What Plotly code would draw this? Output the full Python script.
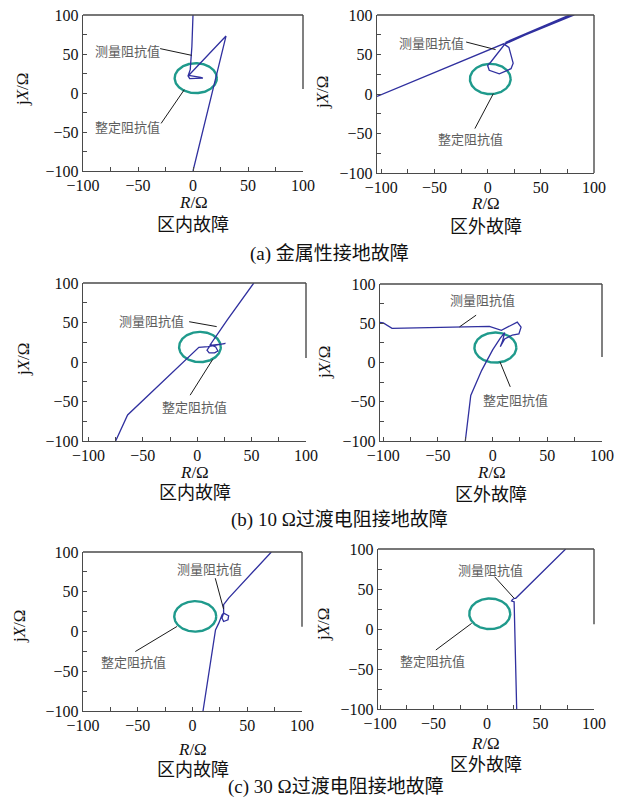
import numpy as np
import plotly.graph_objects as go

W, H = 619, 799

# ---------------- measured-impedance trajectories (R / X in ohm) ----------------
# (a) metallic earth fault
r_a_in = [0, -1, -2.5, -4.5, -3, 9, 7, -4, 30, 0]
x_a_in = [100, 60, 30, 22, 18.5, 19, 20, 22.5, 73, -100]

r_a_out = [-104, -95, -85, 15, 20, 24, 22, 11, 1.5, 0, 3, 16, 77, 17, 79.5, 16, 81.5]
x_a_out = [-3, 2, 7, 63.5, 59, 39, 32, 25.5, 30, 36, 40.5, 63, 100, 65.5, 100, 64, 100]

# (b) 10 ohm fault resistance
r_b_in = [-75, -64, 1.5, 10, 26, 24, 12, 9, 11, 16, 19, 17, 12, 27.5, 52]
x_b_in = [-100, -67, 18.6, 19.5, 23.5, 23, 21, 15, 11.5, 11.5, 14, 19, 22, 53, 100]

r_b_out = [-103, -100, -92, -3, 8, 18, 22.5, 26, 24, 18, 11, 7, 9, 11, 7, 0, -10, -20, -25]
x_b_out = [51, 50.5, 43.5, 46, 41, 49, 51.5, 45, 36.5, 35, 30, 20, 27, 38, 31, 16, -10, -42, -100]

# (c) 30 ohm fault resistance
r_c_in = [9.6, 21, 24, 27, 28.4, 33, 32.4, 28.4, 26.9, 28.4, 28.4, 33, 72]
x_c_in = [-100, 2, 10.5, 21, 23.2, 19.8, 14.8, 12.6, 16.9, 23, 33.7, 42, 100]

r_c_out = [27.7, 25.9, 25.3, 22.9, 23.8, 25.9, 26.8, 73.5]
x_c_out = [-100, 2.9, 34, 35, 37, 38.4, 38.4, 100]

# setting impedance of the mho characteristic (circle through the origin)
z_set_r, z_set_x = 5.0, 38.0

# label / leader-line anchors: text (R, X), leader start (R, X), leader end (R, X)
meas_labels = [
    ((-60, 54.7), (-29.9, 56.9), (-1.2, 48.3)),
    ((-52.6, 65.8), (-20.2, 65.8), (7.5, 56.2)),
    ((-41.9, 52.0), (-7.4, 51.0), (17.9, 44.8)),
    ((-9.1, 80.3), (-30.3, 45.4), (-15.1, 60.3)),
    ((15.5, 78.7), (20.8, 67.0), (28.4, 28.2)),
    ((3.2, 74.6), (7.0, 65.4), (25.3, 38.4)),
]
set_labels = [
    ((-60, -43), (-29, -39), (-7.9, 4.3)),
    ((-16.0, -55.7), (-12, -43.8), (5.4, 0.5)),
    ((-2.7, -56.7), (-6.5, -42), (14.3, 3.4)),
    ((20.5, -47.1), (16.1, -31), (6.7, 0.8)),
    ((-53.7, -37.8), (-52.2, -25.2), (-14.2, 6.3)),
    ((-51, -39.6), (-47.9, -26.25), (-14.4, 7.1)),
]

zone_titles = ["区内故障", "区外故障"] * 3
captions = ["(a) 金属性接地故障", "(b) 10 Ω过渡电阻接地故障", "(c) 30 Ω过渡电阻接地故障"]

# ---------------- layout geometry (pixels) ----------------
# left, right, top, bottom, x-range, depth of the right frame edge (X value)
panels = [
    dict(r=r_a_in, x=x_a_in, box=(83, 303, 15, 171), xr=[-100, 100], rb=5),
    dict(r=r_a_out, x=x_a_out, box=(377, 594, 15, 173), xr=[-104, 100], rb=-100),
    dict(r=r_b_in, x=x_b_in, box=(83, 306, 283, 441), xr=[-105, 100], rb=5),
    dict(r=r_b_out, x=x_b_out, box=(380, 602, 284, 441), xr=[-103, 100], rb=7),
    dict(r=r_c_in, x=x_c_in, box=(83, 302, 552, 711), xr=[-100, 100], rb=6),
    dict(r=r_c_out, x=x_c_out, box=(378, 594, 549, 709), xr=[-102, 100], rb=6),
]
ytitle_pos = [(22, 90), (323, 93), (23, 360), (325, 363), (19, 627), (323, 625)]
rtitle_y = [202, 204, 472, 472, 749, 743]
zone_y = [223, 225, 491, 493, 768, 763]
caption_pos = [(329, 254), (340, 520), (336, 787)]

NAVY = "#30309f"
TEAL = "#1f9a8c"
AX = "#4a4a4a"
SERIF = "Liberation Serif, Noto Sans CJK SC"
CJK = "Noto Sans CJK SC"

theta = np.linspace(0, 2 * np.pi, 200)
c_r, c_x = z_set_r / 2, z_set_x / 2
rad = np.hypot(z_set_r, z_set_x) / 2
circ_r = c_r + rad * np.cos(theta)
circ_x = c_x + rad * np.sin(theta)

fig = go.Figure()
layout = dict(
    width=W, height=H,
    margin=dict(l=0, r=0, t=0, b=0, autoexpand=False),
    paper_bgcolor="white", plot_bgcolor="white", showlegend=False,
)
shapes, annotations = [], []


def px(v):
    return v / W


def py(v):
    return 1 - v / H


def paper_text(x, y, text, size, family=SERIF, angle=0):
    return dict(xref="paper", yref="paper", x=px(x), y=py(y), text=text,
                xanchor="center", yanchor="middle", textangle=angle,
                showarrow=False, font=dict(family=family, size=size, color="#111"))


for i, p in enumerate(panels, start=1):
    sx = "" if i == 1 else str(i)
    xa, ya = "x" + sx, "y" + sx
    l, rgt, t, b = p["box"]

    fig.add_trace(go.Scatter(x=circ_r, y=circ_x, mode="lines",
                             line=dict(color=TEAL, width=2.4),
                             xaxis=xa, yaxis=ya, hoverinfo="skip"))
    fig.add_trace(go.Scatter(x=p["r"], y=p["x"], mode="lines",
                             line=dict(color=NAVY, width=1.3),
                             xaxis=xa, yaxis=ya, hoverinfo="skip"))

    common = dict(
        tickmode="linear", tick0=-100, dtick=50,
        ticks="inside", ticklen=4, tickwidth=1, tickcolor=AX,
        minor=dict(ticks="inside", dtick=25, ticklen=4, tickwidth=1,
                   tickcolor=AX, showgrid=False),
        showline=True, linecolor=AX, linewidth=1.4,
        showgrid=False, zeroline=False, fixedrange=True, automargin=False,
        tickfont=dict(family=SERIF, size=16, color="#111"),
    )
    layout["xaxis" + sx] = dict(domain=[px(l), px(rgt)], range=p["xr"],
                                anchor=ya, **common)
    layout["yaxis" + sx] = dict(domain=[py(b), py(t)], range=[-100, 100],
                                anchor=xa, **common)

    # top edge and (partial) right edge of the frame
    shapes.append(dict(type="line", xref=xa + " domain", yref=ya + " domain",
                       x0=0, x1=1, y0=1, y1=1, line=dict(color=AX, width=1.4)))
    shapes.append(dict(type="line", xref=xa + " domain", yref=ya,
                       x0=1, x1=1, y0=p["rb"], y1=100,
                       line=dict(color=AX, width=1.4)))

    # labels with leader lines
    for lab, name in ((meas_labels[i - 1], "测量阻抗值"), (set_labels[i - 1], "整定阻抗值")):
        (tr, tx), (sr, sxv), (er, ex) = lab
        annotations.append(dict(xref=xa, yref=ya, x=tr, y=tx, text=name,
                                xanchor="center", yanchor="middle",
                                showarrow=False,
                                font=dict(family=CJK, size=13, color="#5e5e5e")))
        shapes.append(dict(type="line", xref=xa, yref=ya, x0=sr, y0=sxv,
                           x1=er, y1=ex, line=dict(color="#1a1a1a", width=1)))

    # axis titles and zone titles
    yx, yy = ytitle_pos[i - 1]
    annotations.append(paper_text(yx, yy, "j<i>X</i>/Ω", 17, angle=-90))
    cx = (l + rgt) / 2
    annotations.append(paper_text(cx, rtitle_y[i - 1], "<i>R</i>/Ω", 17))
    annotations.append(paper_text(cx, zone_y[i - 1], zone_titles[i - 1], 18, family=CJK))

for cap, (cx, cy) in zip(captions, caption_pos):
    annotations.append(paper_text(cx, cy, cap, 19))

layout["shapes"] = shapes
layout["annotations"] = annotations
fig.update_layout(**layout)
fig.write_html("out.html")
